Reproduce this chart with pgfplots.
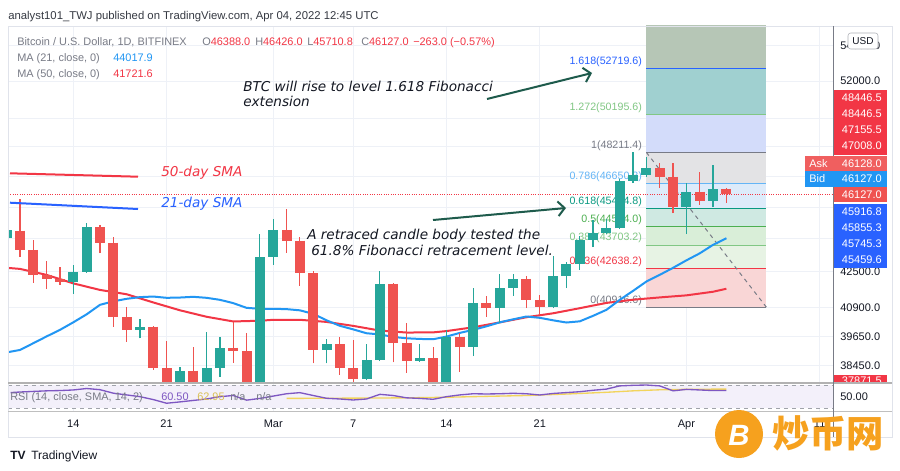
\documentclass[border=0pt]{standalone}
\usepackage{pgfplots}
\pgfplotsset{compat=1.18}
\usepackage{fontspec}
\setmainfont{Liberation Sans}
\newfontfamily\annot{DejaVu Sans}
\newfontfamily\cjk{Noto Sans CJK SC}
\usetikzlibrary{arrows.meta}

\newcommand{\fs}[1]{\fontsize{#1}{#1}\selectfont}

\definecolor{tvgreen}{HTML}{26A69A}
\definecolor{tvred}{HTML}{EF5350}
\definecolor{tvred2}{HTML}{F23645}
\definecolor{smablue}{HTML}{2196F3}
\definecolor{lineblue}{HTML}{2962FF}
\definecolor{txtgray}{HTML}{787B86}
\definecolor{txtdark}{HTML}{131722}
\definecolor{gridc}{HTML}{EEF1F7}
\definecolor{framec}{HTML}{E0E3EB}
\definecolor{arrowc}{HTML}{1E5B4C}
\definecolor{rsic}{HTML}{7E57C2}
\definecolor{rsiyel}{HTML}{F2D45C}
\definecolor{rsiband}{HTML}{F3F0FA}
\definecolor{fiblt}{HTML}{81C784}
\definecolor{fibmid}{HTML}{4CAF50}
\definecolor{fibteal}{HTML}{089981}
\definecolor{fibsky}{HTML}{64B5F6}
\definecolor{fz9}{HTML}{B6C6B6}
\definecolor{fz8}{HTML}{A0D0D0}
\definecolor{fz7}{HTML}{D3DCFA}
\definecolor{fz6}{HTML}{E3E3E5}
\definecolor{fz5}{HTML}{DDEBFA}
\definecolor{fz4}{HTML}{CFE9E2}
\definecolor{fz3}{HTML}{D9EED8}
\definecolor{fz2}{HTML}{E7F3E4}
\definecolor{fz1}{HTML}{F9D6D6}
\definecolor{askc}{HTML}{F05F5F}
\definecolor{bidc}{HTML}{2196F3}
\definecolor{wmark}{HTML}{F6A11E}

\tikzset{fiblbl/.style={anchor=south east, inner sep=1pt, xshift=-2pt, font=\fs{8}}}

\begin{document}
\begin{tikzpicture}
\begin{scope}[x=0.75pt, y=-0.75pt]
\fill[white] (0,0) rectangle (900,471);
\end{scope}

% ---------------- price pane ----------------
\begin{axis}[
    at={(6pt,-286.5pt)}, anchor=south west, scale only axis,
    width=618.75pt, height=267pt,
    xmin=-19.9, xmax=42,
    ymode=log, ymin=37801, ymax=55138,
    axis line style={draw=none}, major tick length=0pt,
    xtick={-15,-8,0,6,13,20,31,41}, xticklabels={},
    ytick={38450,39650,40900,42500,44000,45500,47000,48500,50000,52000,54000},
    yticklabels={38450.0,39650.0,40900.0,42500.0,,,,,,52000.0,54000.0},
    yticklabel pos=right,
    yticklabel style={anchor=west, xshift=2pt, font=\fs{8.25}, text=txtdark},
    grid=major, major grid style={gridc, line width=0.75pt},
    unbounded coords=jump,
]
% Fibonacci zones
\addplot[fill=fz9, draw=none] coordinates {(28,52719.6) (37,52719.6) (37,56000) (28,56000)};
\addplot[fill=fz8, draw=none] coordinates {(28,50195.6) (37,50195.6) (37,52719.6) (28,52719.6)};
\addplot[fill=fz7, draw=none] coordinates {(28,48211.4) (37,48211.4) (37,50195.6) (28,50195.6)};
\addplot[fill=fz6, draw=none] coordinates {(28,46650.3) (37,46650.3) (37,48211.4) (28,48211.4)};
\addplot[fill=fz5, draw=none] coordinates {(28,45424.8) (37,45424.8) (37,46650.3) (28,46650.3)};
\addplot[fill=fz4, draw=none] coordinates {(28,44564.0) (37,44564.0) (37,45424.8) (28,45424.8)};
\addplot[fill=fz3, draw=none] coordinates {(28,43703.2) (37,43703.2) (37,44564.0) (28,44564.0)};
\addplot[fill=fz2, draw=none] coordinates {(28,42638.2) (37,42638.2) (37,43703.2) (28,43703.2)};
\addplot[fill=fz1, draw=none] coordinates {(28,40916.6) (37,40916.6) (37,42638.2) (28,42638.2)};

% Fibonacci levels
\addplot[lineblue, line width=0.75pt] coordinates {(28,52719.6) (37,52719.6)} node[pos=0, fiblbl, text=lineblue] {1.618(52719.6)};
\addplot[fiblt, line width=0.75pt] coordinates {(28,50195.6) (37,50195.6)} node[pos=0, fiblbl, text=fiblt] {1.272(50195.6)};
\addplot[txtgray, line width=0.75pt] coordinates {(28,48211.4) (37,48211.4)} node[pos=0, fiblbl, text=txtgray] {1(48211.4)};
\addplot[fibsky, line width=0.75pt] coordinates {(28,46650.3) (37,46650.3)} node[pos=0, fiblbl, text=fibsky] {0.786(46650.3)};
\addplot[fibteal, line width=0.75pt] coordinates {(28,45424.8) (37,45424.8)} node[pos=0, fiblbl, text=fibteal] {0.618(45424.8)};
\addplot[fibmid, line width=0.75pt] coordinates {(28,44564.0) (37,44564.0)} node[pos=0, fiblbl, text=fibmid] {0.5(44564.0)};
\addplot[fiblt, line width=0.75pt] coordinates {(28,43703.2) (37,43703.2)} node[pos=0, fiblbl, text=fiblt] {0.382(43703.2)};
\addplot[tvred2, line width=0.75pt] coordinates {(28,42638.2) (37,42638.2)} node[pos=0, fiblbl, text=tvred2] {0.236(42638.2)};
\addplot[txtgray, line width=0.75pt] coordinates {(28,40916.6) (37,40916.6)} node[pos=0, fiblbl, text=txtgray] {0(40916.6)};
\addplot[txtgray, dashed, line width=0.75pt] coordinates {(28,48211.4) (37,40916.6)};

% last price line
\addplot[tvred2, densely dotted, line width=0.75pt] coordinates {(-19.9,46127) (42,46127)};

% MA 50 (close)
\addplot[tvred2, line width=1.5pt] coordinates {
(-20,42660) (-19,42610) (-17,42340) (-15,41960) (-13,41670) (-11,41480)
(-9,41120) (-7,40780) (-5,40500) (-3,40300) (-1,40330) (0,40370) (2,40370)
(4,40280) (6,40110) (8,39920) (10,39830) (12,39840) (13,39900) (15,40050)
(17,40260) (19,40480) (21,40650) (23,40870) (25,41100) (27,41240) (29,41340)
(31,41430) (33,41590) (34,41722)};

% MA 21 (close)
\addplot[smablue, line width=1.5pt] coordinates {
(-20,39000) (-19,39105) (-18,39384) (-17,39669) (-16,39944) (-15,40262)
(-14,40605) (-13,41016) (-12,41169) (-11,41278) (-10,41353) (-9,41379)
(-8,41322) (-7,41335) (-6,41366) (-5,41322) (-4,41235) (-3,41090) (-2,40886)
(-1,40843) (0,40843) (1,40830) (2,40778) (3,40627) (4,40348) (5,40113)
(6,39965) (7,39804) (8,39753) (9,39648) (10,39593) (11,39564) (12,39552)
(13,39661) (14,39817) (15,39944) (16,40092) (17,40262) (18,40390) (19,40511)
(20,40455) (21,40348) (22,40254) (23,40305) (24,40541) (25,40800) (26,41235)
(27,41630) (28,42043) (29,42342) (30,42658) (31,42998) (32,43319) (33,43711)
(34,44018)};

% green candles: wicks (low, high)
\addplot[tvgreen, line width=0.9pt] coordinates {
(-20,43897) (-20,44601) (-20,nan) (-15,41498) (-15,42794) (-15,nan)
(-14,42446) (-14,44729) (-14,nan) (-10,39593) (-10,40412) (-10,nan)
(-7,36400) (-7,38419) (-7,nan) (-5,34330) (-5,39872) (-5,nan)
(-4,38014) (-4,39661) (-4,nan) (-1,37450) (-1,44210) (-1,nan)
(0,42794) (0,44918) (0,nan) (4,38557) (4,39564) (4,nan)
(7,37860) (7,39342) (7,nan) (8,38650) (8,42536) (8,nan)
(11,38623) (11,39355) (11,nan) (13,37580) (13,39944) (13,nan)
(15,38857) (15,41749) (15,nan) (17,40228) (17,42374) (17,nan)
(18,41410) (18,42374) (18,nan) (21,40873) (21,43204) (21,nan)
(22,41749) (22,42944) (22,nan) (23,42567) (23,44130) (23,nan)
(24,43605) (24,44886) (24,nan) (25,44200) (25,44918) (25,nan)
(26,44445) (26,46865) (26,nan) (27,46667) (27,48211) (27,nan)
(28,46995) (28,48000) (28,nan) (31,44210) (31,46697) (31,nan)
(33,45494) (33,47582)};
% green candles: bodies (open, close)
\addplot[tvgreen, line width=7.5pt, line cap=butt] coordinates {
(-20,44023) (-20,44412) (-20,nan) (-15,42043) (-15,42491) (-15,nan)
(-14,42491) (-14,44539) (-14,nan) (-10,39944) (-10,40084) (-10,nan)
(-7,37000) (-7,38256) (-7,nan) (-5,37270) (-5,38354) (-5,nan)
(-4,38354) (-4,39201) (-4,nan) (-1,37700) (-1,43172) (-1,nan)
(0,43172) (0,44412) (0,nan) (4,39105) (4,39342) (4,nan)
(7,37909) (7,38692) (7,nan) (8,38692) (8,41940) (8,nan)
(11,38664) (11,38763) (11,nan) (13,37780) (13,39635) (13,nan)
(15,39242) (15,41090) (15,nan) (17,40886) (17,41749) (17,nan)
(18,41749) (18,42163) (18,nan) (21,40943) (21,42311) (21,nan)
(22,42311) (22,42826) (22,nan) (23,42826) (23,43944) (23,nan)
(24,43944) (24,44257) (24,nan) (25,44257) (25,44493) (25,nan)
(26,44493) (26,46795) (26,nan) (27,46795) (27,47080) (27,nan)
(28,47080) (28,47415) (28,nan) (31,45494) (31,46253) (31,nan)
(33,45799) (33,46388)};

% red candles: wicks (low, high)
\addplot[tvred, line width=0.9pt] coordinates {
(-19,43172) (-19,45882) (-19,nan) (-18,41998) (-18,43944) (-18,nan)
(-17,41705) (-17,42976) (-17,nan) (-16,41896) (-16,42717) (-16,nan)
(-13,43328) (-13,44648) (-13,nan) (-12,40084) (-12,44097) (-12,nan)
(-11,39451) (-11,40943) (-11,nan) (-9,38285) (-9,40126) (-9,nan)
(-8,36800) (-8,39493) (-8,nan) (-6,37050) (-6,39242) (-6,nan)
(-3,38582) (-3,40297) (-3,nan) (-2,37050) (-2,39829) (-2,nan)
(1,43356) (1,45397) (1,nan) (2,41852) (2,44069) (2,nan)
(3,38557) (3,42536) (3,nan) (5,38082) (5,39661) (5,nan)
(6,37160) (6,39522) (6,nan) (9,38599) (9,41998) (9,nan)
(10,38175) (10,40228) (10,nan) (12,37590) (12,39242) (12,nan)
(14,38216) (14,39829) (14,nan) (16,40511) (16,41423) (16,nan)
(19,40873) (19,42297) (19,nan) (20,40584) (20,41454) (20,nan)
(29,46420) (29,47667) (29,nan) (30,45206) (30,47667) (30,nan)
(32,45605) (32,47215) (32,nan) (34,45711) (34,46426)};
% red candles: bodies (open, close)
\addplot[tvred, line width=7.5pt, line cap=butt] coordinates {
(-19,44379) (-19,43480) (-19,nan) (-18,43480) (-18,42342) (-18,nan)
(-17,42342) (-17,42150) (-17,nan) (-16,42150) (-16,42043) (-16,nan)
(-13,44539) (-13,43818) (-13,nan) (-12,43818) (-12,40485) (-12,nan)
(-11,40485) (-11,39944) (-11,nan) (-9,40084) (-9,38354) (-9,nan)
(-8,38354) (-8,37000) (-8,nan) (-6,38256) (-6,37270) (-6,nan)
(-3,39201) (-3,39051) (-3,nan) (-2,39051) (-2,37700) (-2,nan)
(1,44412) (1,43911) (1,nan) (2,43911) (2,42419) (2,nan)
(3,42419) (3,39105) (3,nan) (5,39342) (5,38354) (5,nan)
(6,38354) (6,37909) (6,nan) (9,41940) (9,39384) (9,nan)
(10,39384) (10,38664) (10,nan) (12,38763) (12,37780) (12,nan)
(14,39635) (14,39242) (14,nan) (16,41090) (16,40886) (16,nan)
(19,42163) (19,41235) (19,nan) (20,41235) (20,40943) (20,nan)
(29,47415) (29,46995) (29,nan) (30,46995) (30,45494) (30,nan)
(32,46253) (32,45799) (32,nan) (34,46388) (34,46127)};
\end{axis}

% ---------------- RSI pane ----------------
\begin{axis}[
    at={(6pt,-308.625pt)}, anchor=south west, scale only axis,
    width=618.75pt, height=21pt,
    xmin=-19.9, xmax=42, ymin=24.5, ymax=72.6,
    axis line style={draw=none}, major tick length=0pt,
    xtick={-15,-8,0,6,13,20,31,41}, xticklabels={14,21,Mar,7,14,21,Apr,11},
    xticklabel style={font=\fs{8.25}, text=txtdark, yshift=-3pt},
    ytick={50}, yticklabels={50.00}, yticklabel pos=right,
    yticklabel style={anchor=west, xshift=2pt, font=\fs{8.25}, text=txtdark},
    xmajorgrids, major grid style={gridc, line width=0.75pt},
]
\addplot[fill=rsiband, draw=none] coordinates {(-19.9,30) (42,30) (42,70) (-19.9,70)};
\addplot[txtgray!70, dashed, line width=0.75pt] coordinates {(-19.9,70) (42,70)};
\addplot[txtgray!70, dashed, line width=0.75pt] coordinates {(-19.9,30) (42,30)};
\addplot[rsiyel, line width=1pt] coordinates {
(1,47) (4,47.3) (7,47.6) (10,48) (13,49) (16,50.5) (19,52) (22,54.5)
(25,57.5) (27,60) (29,61.8) (31,62.6) (33,62.9) (34,62.95)};
\addplot[rsic, line width=1pt] coordinates {
(-19.7,57) (-19,58) (-18,59) (-17,60) (-16,60.5) (-15,61.5) (-14,64) (-13,62)
(-12,56) (-11,53) (-10,50) (-9,45) (-8,38.7) (-7,41) (-6,43.5) (-5,46) (-4,50)
(-3,52) (-2,44) (-1,47) (0,51) (1,55) (2,56.9) (3,52) (4,47.2) (5,46) (6,44.3)
(7,46) (8,54) (9,52) (10,48) (11,47) (12,45.5) (13,50) (14,53) (15,55)
(16,54.6) (17,55) (18,55.8) (19,55) (20,52.9) (21,55.5) (22,57) (23,58.5)
(24,61) (25,63) (26,68.5) (27,69.5) (28,70) (29,68.5) (30,60) (31,62.5)
(32,61.5) (33,60.5) (34,60.5)};
\end{axis}

\begin{scope}[x=0.75pt, y=-0.75pt]
% ---------------- frame ----------------
\draw[framec, line width=0.75pt] (8,26) rectangle (892,437);
\draw[gray!60, line width=1.5pt] (8,382.5) -- (892,382.5);
\draw[gray!50, line width=0.75pt] (8,411.7) -- (892,411.7);
\draw[txtgray, line width=0.75pt] (833,26) -- (833,437);

% ---------------- header and legend ----------------
\node[anchor=base west, inner sep=0pt, font=\fs{8.5}, text=txtdark!85] at (8,19) {analyst101\_TWJ published on TradingView.com, Apr 04, 2022 12:45 UTC};
\begin{scope}[every node/.style={anchor=base west, inner sep=0pt, font=\fs{8.2}}]
\node[text=txtgray] at (17,45.5) {Bitcoin / U.S. Dollar, 1D, BITFINEX};
\node at (202,45.5) {\color{txtgray}O\color{tvred2}46388.0};
\node at (255,45.5) {\color{txtgray}H\color{tvred2}46426.0};
\node at (307,45.5) {\color{txtgray}L\color{tvred2}45710.8};
\node at (361,45.5) {\color{txtgray}C\color{tvred2}46127.0};
\node[text=tvred2] at (413,45.5) {−263.0 (−0.57\%)};
\node[text=txtgray] at (17,61) {MA (21, close, 0)};
\node[text=smablue] at (113,61) {44017.9};
\node[text=txtgray] at (17,77) {MA (50, close, 0)};
\node[text=tvred2] at (113,77) {41721.6};
\node[text=txtgray] at (10,400.5) {RSI (14, close, SMA, 14, 2)};
\node[text=rsic] at (161,400.5) {60.50};
\node[text=rsiyel!90!black] at (197,400.5) {62.95};
\node[text=txtgray] at (230,400.5) {n/a};
\node[text=txtgray] at (256,400.5) {n/a};
\end{scope}

% ---------------- analyst annotations ----------------
\draw[tvred2, line width=1.5pt] (10,173.3) -- (138,176.7);
\draw[lineblue, line width=1.5pt] (10,202.7) -- (138,209);
\begin{scope}[every node/.style={anchor=base west, inner sep=0pt, font=\annot\itshape\fs{10.2}}]
\node[text=tvred2] at (161,176) {50-day SMA};
\node[text=lineblue] at (161,207) {21-day SMA};
\node[text=txtdark] at (243,91) {BTC will rise to level 1.618 Fibonacci};
\node[text=txtdark] at (243,106) {extension};
\node[text=txtdark] at (307,239) {A retraced candle body tested the};
\node[text=txtdark] at (311,255.5) {61.8\% Fibonacci retracement level.};
\end{scope}
\draw[arrowc, line width=1.5pt, -{Straight Barb[length=5pt,width=11pt]}] (487,99) -- (592,73);
\draw[arrowc, line width=1.5pt, -{Straight Barb[length=5pt,width=11pt]}] (433,220) -- (566,208);

% ---------------- price scale labels ----------------
\fill[white, draw=txtgray!60, rounded corners=2pt] (848,33) rectangle (878,49);
\node[font=\fs{7.5}, text=txtdark] at (863,41) {USD};
\fill[tvred2] (834,89.5) rectangle (887,154.5);
\fill[askc] (805,155.5) rectangle (887,171);
\fill[bidc] (805,171) rectangle (887,186.5);
\fill[tvred] (834,187) rectangle (887,202);
\fill[lineblue] (834,204) rectangle (887,268);
\begin{scope}[every node/.style={anchor=east, inner sep=0pt, font=\fs{8.25}, text=white}]
\node at (882,98) {48446.5};
\node at (882,114) {48446.5};
\node at (882,130) {47155.5};
\node at (882,146) {47008.0};
\node at (882,163.3) {46128.0};
\node at (882,179) {46127.0};
\node at (882,194.5) {46127.0};
\node at (882,212) {45916.8};
\node at (882,228) {45855.3};
\node at (882,244) {45745.3};
\node at (882,260) {45459.6};
\end{scope}
\node[anchor=west, inner sep=0pt, font=\fs{8.25}, text=white] at (809,163.3) {Ask};
\node[anchor=west, inner sep=0pt, font=\fs{8.25}, text=white] at (809,179) {Bid};
\begin{scope}
\clip (834,374.5) rectangle (887,381.5);
\fill[tvred2] (834,374.5) rectangle (887,381.5);
\node[anchor=east, inner sep=0pt, font=\fs{8.25}, text=white] at (882,381) {37871.5};
\end{scope}

% ---------------- footer ----------------
\node[anchor=base west, inner sep=0pt, font=\bfseries\fs{9}, text=txtdark] at (10,459) {TV};
\node[anchor=base west, inner sep=0pt, font=\fs{9}, text=txtdark] at (31,459) {TradingView};

% watermark
\fill[wmark] (739,434) circle (24);
\node[font=\bfseries\itshape\fs{22}, text=white] at (739,435) {B};
\node[anchor=west, inner sep=0pt, font=\cjk\bfseries\fs{28}, text=wmark] at (772,433) {炒币网};
\end{scope}
\end{tikzpicture}
\end{document}
